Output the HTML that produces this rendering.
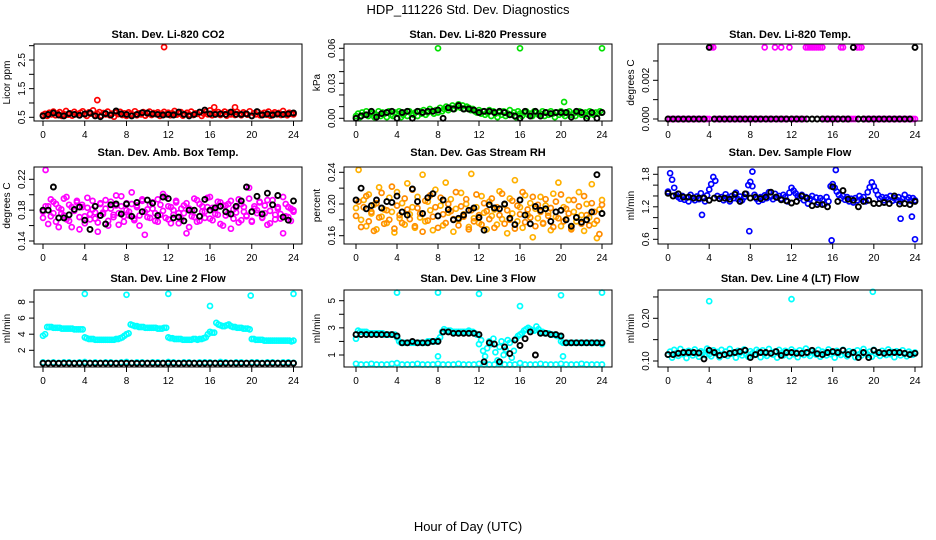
<!DOCTYPE html>
<html><head><meta charset="utf-8"><style>
html,body{margin:0;padding:0;background:#fff;}
svg{display:block;font-family:"Liberation Sans",sans-serif;}
</style></head><body>
<svg id="chart" width="936" height="540" viewBox="0 0 936 540">
<text x="468" y="14" text-anchor="middle" font-size="13">HDP_111226  Std. Dev. Diagnostics</text>
<text x="468" y="531" text-anchor="middle" font-size="13">Hour of Day (UTC)</text>
</svg>
<script>
// ---- data ----
const xTicks = [0,4,8,12,16,20,24];
const co2Red = [0.58,0.62,0.55,0.66,0.60,0.70,0.57,0.63,0.68,0.55,0.61,0.72,0.59,0.64,0.56,0.69,0.62,0.58,0.66,0.71,0.60,0.55,0.67,0.63,0.74,0.58,0.62,0.68,0.56,0.65,0.60,0.70,0.57,0.63,0.52,0.66,0.61,0.69,0.58,0.64,0.55,0.67,0.62,0.59,0.71,0.57,0.64,0.60,0.68,0.56,0.63,0.70,0.58,0.65,0.61,0.67,0.55,0.62,0.69,0.60,0.66,0.57,0.64,0.72,0.59,0.63,0.68,0.56,0.61,0.66,0.60,0.70,0.58,0.64,0.62,0.67,0.55,0.63,0.69,0.60,0.74,0.57,0.65,0.61,0.68,0.58,0.63,0.70,0.56,0.66,0.60,0.64,0.58,0.69,0.62,0.57,0.67,0.63,0.59,0.71,0.55,0.64,0.60,0.68,0.57,0.62,0.66,0.59,0.70,0.56,0.63,0.67,0.60,0.65,0.58,0.72,0.61,0.57,0.66,0.62,0.60];
const co2OutHours = [5.2,11.6,16.4,18.4];
const co2OutVals = [1.1,2.95,0.85,0.85];
const co2Black = [0.55,0.6,0.65,0.58,0.55,0.63,0.6,0.57,0.62,0.65,0.55,0.52,0.63,0.58,0.72,0.62,0.6,0.55,0.6,0.66,0.65,0.62,0.6,0.58,0.6,0.58,0.68,0.6,0.55,0.6,0.68,0.75,0.62,0.6,0.62,0.6,0.68,0.6,0.6,0.62,0.55,0.7,0.58,0.62,0.58,0.62,0.6,0.62,0.65];

const presGreen = [0.002,0.004,0.001,0.005,0.003,0.006,0.002,0.004,0.005,0.001,0.003,0.006,0.002,0.005,0.004,0.001,0.006,0.003,0.002,0.005,0.004,0.006,0.001,0.003,0.005,0.002,0.006,0.004,0.003,0.005,0.002,0.006,0.004,0.007,0.003,0.005,0.008,0.006,0.004,0.007,0.005,0.009,0.006,0.008,0.010,0.007,0.009,0.011,0.008,0.010,0.012,0.009,0.011,0.008,0.010,0.009,0.007,0.008,0.006,0.005,0.007,0.004,0.006,0.003,0.005,0.007,0.002,0.006,0.004,0.001,0.005,0.003,0.006,0.002,0.004,0.007,0.003,0.005,0.001,0.006,0.004,0.002,0.005,0.006,0.003,0.004,0.002,0.006,0.005,0.003,0.004,0.006,0.002,0.005,0.003,0.006,0.004,0.001,0.005,0.003,0.006,0.004,0.002,0.005,0.006,0.003,0.004,0.002,0.005,0.006,0.003,0.004,0.005,0.002,0.006,0.004,0.003,0.005,0.004,0.006,0.005];
const presOutHours = [8,16,24,20.3];
const presOutVals = [0.06,0.06,0.06,0.014];
const presBlack = [0.0,0.002,0.003,0.006,0.001,0.004,0.005,0.006,0.0,0.005,0.006,0.0,0.006,0.005,0.006,0.006,0.007,0.0,0.009,0.008,0.011,0.008,0.008,0.007,0.005,0.006,0.006,0.005,0.006,0.005,0.003,0.002,0.0,0.006,0.002,0.006,0.002,0.005,0.004,0.005,0.005,0.005,0.001,0.006,0.005,0.0,0.005,0.0,0.005];

const tempMagenta = [0,0,0,0,0,0,0,0,0,0,0,0,0,0,0,0,0,0,0,0,0,0.0037,0.0037,0,0,0,0,0,0,0,0,0,0,0,0,0,0,0,0,0,0,0,0,0,0,0,0,0.0037,0,0,0,0,0.0037,0,0,0.0037,0,0,0,0.0037,0,0,0,0,0,0,0,0.0037,0.0037,0.0037,0.0037,0.0037,0.0037,0.0037,0.0037,0.0037,0,0,0,0,0,0,0,0,0.0037,0.0037,0,0,0,0,0,0,0.0037,0.0037,0.0037,0,0,0,0,0,0,0,0,0,0,0,0,0,0,0,0,0,0,0,0,0,0,0,0,0,0];
const tempBlack = [0,0,0,0,0,0,0,0,0.0037,0,0,0,0,0,0,0,0,0,0,0,0,0,0,0,0,0,0,0,0,0,0,0,0,0,0,0,0.0037,0,0,0,0,0,0,0,0,0,0,0,0.0037];

const ambA = [0.178,0.232,0.185,0.172,0.191,0.165,0.183,0.176,0.195,0.168,0.187,0.158,0.180,0.192,0.171,0.184,0.163,0.196,0.175,0.181,0.169,0.152,0.188,0.177,0.193,0.166,0.182,0.174,0.199,0.161,0.185,0.172,0.189,0.178,0.203,0.167,0.186,0.173,0.194,0.148,0.181,0.170,0.190,0.176,0.165,0.187,0.179,0.197,0.168,0.184,0.174,0.192,0.163,0.182,0.176,0.189,0.158,0.180,0.171,0.193,0.166,0.185,0.178,0.196,0.169,0.183,0.175,0.191,0.162,0.186,0.173,0.188,0.156,0.181,0.177,0.194,0.167,0.184,0.172,0.209,0.165,0.182,0.176,0.190,0.170,0.186,0.161,0.179,0.193,0.168,0.184,0.175,0.150,0.188,0.171,0.182,0.178];
const ambB = [0.170,0.185,0.162,0.194,0.176,0.188,0.158,0.181,0.173,0.197,0.166,0.184,0.179,0.190,0.155,0.187,0.172,0.183,0.168,0.192,0.177,0.164,0.189,0.175,0.182,0.160,0.191,0.171,0.186,0.176,0.198,0.165,0.180,0.173,0.188,0.169,0.184,0.160,0.192,0.178,0.171,0.187,0.182,0.166,0.194,0.174,0.201,0.170,0.185,0.163,0.180,0.190,0.176,0.168,0.186,0.150,0.182,0.172,0.195,0.165,0.188,0.178,0.170,0.184,0.197,0.167,0.181,0.174,0.190,0.160,0.186,0.176,0.192,0.169,0.183,0.164,0.188,0.178,0.173,0.195,0.166,0.185,0.180,0.191,0.171,0.176,0.193,0.163,0.187,0.174,0.182,0.169,0.197,0.172,0.184,0.166,0.180];
const ambBlack = [0.18,0.18,0.21,0.17,0.17,0.174,0.181,0.184,0.167,0.155,0.185,0.173,0.162,0.187,0.188,0.175,0.188,0.172,0.19,0.178,0.193,0.189,0.173,0.197,0.195,0.17,0.171,0.166,0.18,0.18,0.172,0.194,0.18,0.183,0.185,0.178,0.175,0.185,0.192,0.21,0.178,0.198,0.175,0.202,0.187,0.199,0.171,0.167,0.192];

const rhA = [0.195,0.243,0.180,0.205,0.172,0.212,0.188,0.199,0.168,0.221,0.184,0.193,0.176,0.208,0.190,0.164,0.215,0.182,0.201,0.174,0.226,0.187,0.196,0.170,0.209,0.183,0.237,0.178,0.203,0.192,0.167,0.218,0.185,0.198,0.173,0.227,0.189,0.206,0.165,0.194,0.180,0.214,0.187,0.200,0.171,0.238,0.182,0.196,0.176,0.210,0.189,0.168,0.203,0.185,0.193,0.174,0.216,0.181,0.199,0.163,0.207,0.188,0.230,0.178,0.196,0.170,0.211,0.186,0.201,0.158,0.194,0.182,0.209,0.175,0.198,0.189,0.167,0.213,0.184,0.227,0.172,0.196,0.181,0.205,0.170,0.190,0.178,0.215,0.186,0.166,0.200,0.183,0.225,0.175,0.157,0.193,0.205];
const rhB = [0.185,0.203,0.171,0.196,0.210,0.178,0.190,0.166,0.201,0.183,0.214,0.175,0.192,0.180,0.222,0.169,0.198,0.186,0.176,0.207,0.193,0.181,0.218,0.172,0.195,0.188,0.165,0.204,0.179,0.211,0.184,0.196,0.170,0.208,0.187,0.176,0.200,0.191,0.181,0.215,0.173,0.197,0.184,0.206,0.168,0.192,0.178,0.212,0.186,0.174,0.201,0.191,0.181,0.207,0.170,0.196,0.186,0.213,0.175,0.192,0.180,0.204,0.169,0.198,0.187,0.215,0.177,0.193,0.183,0.209,0.172,0.199,0.190,0.176,0.206,0.185,0.195,0.171,0.203,0.182,0.212,0.178,0.194,0.188,0.168,0.205,0.183,0.197,0.175,0.210,0.186,0.173,0.201,0.190,0.179,0.162,0.199];
const rhBlack = [0.205,0.22,0.194,0.198,0.205,0.195,0.203,0.202,0.21,0.19,0.186,0.219,0.203,0.188,0.208,0.213,0.185,0.205,0.193,0.18,0.182,0.186,0.192,0.195,0.183,0.167,0.199,0.195,0.194,0.2,0.182,0.174,0.205,0.186,0.175,0.197,0.192,0.194,0.178,0.19,0.192,0.18,0.172,0.183,0.177,0.18,0.19,0.237,0.188];

const flowBlue = [1.48,1.82,1.70,1.55,1.42,1.38,1.35,1.40,1.33,1.37,1.30,1.42,1.36,1.32,1.39,1.34,1.45,1.37,1.30,1.41,1.52,1.62,1.75,1.68,1.40,1.35,1.38,1.32,1.43,1.37,1.30,1.40,1.36,1.46,1.34,1.39,1.32,1.38,1.44,1.60,1.66,1.58,1.42,1.35,1.30,1.38,1.33,1.41,1.36,1.47,1.39,1.34,1.44,1.37,1.40,1.35,1.42,1.38,1.30,1.46,1.55,1.50,1.45,1.40,1.36,1.42,1.32,1.38,1.26,1.35,1.40,1.30,1.37,1.28,1.36,1.32,1.25,1.38,1.30,1.58,1.62,1.55,1.48,1.42,1.36,1.40,1.33,1.38,1.30,1.35,1.28,1.36,1.32,1.40,1.34,1.38,1.30,1.47,1.56,1.65,1.58,1.50,1.42,1.35,1.38,1.32,1.37,1.34,1.40,1.31,1.36,1.33,1.38,1.30,1.35,1.42,1.34,1.37,1.31,1.36,1.32];
const flowOutHours = [3.3,7.9,8.2,15.9,16.3,22.6,23.7,24];
const flowOutVals = [1.05,0.75,1.85,0.58,1.88,0.98,1.02,0.6];
const flowBlack = [1.45,1.4,1.44,1.38,1.38,1.36,1.36,1.36,1.32,1.36,1.35,1.36,1.34,1.43,1.3,1.44,1.36,1.38,1.35,1.38,1.47,1.38,1.33,1.31,1.27,1.3,1.4,1.36,1.22,1.24,1.24,1.2,1.57,1.3,1.5,1.34,1.32,1.2,1.3,1.32,1.26,1.26,1.28,1.26,1.4,1.25,1.26,1.24,1.3];

const line2High = [3.8,4.0, 4.9,4.9,4.9,4.8,4.8,4.8,4.8,4.7,4.7,4.7,4.7,4.7,4.7,4.6,4.6,4.6,4.6,4.6, 3.6, 3.5,3.4,3.4,3.4,3.3,3.3,3.3,3.3,3.3,3.3,3.3,3.3,3.3,3.3,3.4,3.4,3.5,3.6, 3.8,4.0,4.1, 5.2,5.1,5.0,5.0,4.9,4.9,4.9,4.8,4.8,4.8,4.8,4.8,4.8,4.7,4.7,4.7,4.8,4.8, 3.6,3.5,3.5,3.4,3.4,3.4,3.4,3.3,3.3,3.3,3.3,3.3,3.4,3.4,3.3,3.4,3.4,3.5,3.6, 4.0,4.3,4.2,4.2, 5.4,5.2,5.1,5.0,5.0,5.1,5.2,5.0,4.9,4.9,4.8,4.8,4.8,4.7,4.7,4.7,4.6, 3.4,3.4,3.3,3.3,3.3,3.3,3.2,3.2,3.2,3.2,3.2,3.2,3.2,3.2,3.2,3.2,3.2,3.2,3.2,3.1,3.2];
const line2Low = [0.5,0.45,0.5,0.45,0.5,0.5,0.45,0.5,0.55,0.45,0.5,0.45,0.5,0.5,0.45,0.5,0.55,0.45,0.5,0.5,0.45,0.5,0.5,0.45,0.55,0.5,0.45,0.5,0.5,0.45,0.5,0.5,0.5,0.45,0.55,0.5,0.45,0.5,0.5,0.45,0.5,0.5,0.45,0.5,0.5,0.45,0.5,0.5,0.45];
const line2OutHours = [4,8,12,24,16,19.9];
const line2OutVals = [9.0,8.9,9.0,9.0,7.5,8.8];
const line2Black = [0.4,0.4,0.4,0.38,0.4,0.4,0.38,0.4,0.4,0.4,0.38,0.4,0.4,0.4,0.38,0.4,0.4,0.4,0.38,0.4,0.4,0.4,0.38,0.4,0.4,0.4,0.38,0.4,0.4,0.4,0.38,0.4,0.4,0.4,0.38,0.4,0.4,0.4,0.38,0.4,0.4,0.4,0.38,0.4,0.4,0.4,0.38,0.4,0.4];

const line3High = [2.2,2.8,2.7,2.7,2.7,2.7,2.6,2.6,2.6,2.6,2.6,2.6,2.6,2.6,2.5,2.5,2.5,2.5,2.5,2.5, 2.3,2.0,1.9,1.9,1.9,1.9,1.9,1.9,1.9,1.9,1.9,1.9,1.9,1.9,1.9,2.0,2.0,2.0,2.0,2.0, 2.1,2.3,2.7,2.9,2.8,2.8,2.8,2.7,2.7,2.7,2.7,2.7,2.7,2.7,2.7,2.8,2.7,2.7,2.6,2.5, 1.8,2.1,1.3,0.9,1.5,2.0,1.8,2.2,1.2,0.6,1.6,2.0,1.0,1.4,2.1,1.9,0.8,1.3,2.2,2.4, 2.5,2.6,2.8,2.9,3.0,2.9,2.8,2.8,3.1,2.9,2.7,2.7,2.6,2.6,2.6,2.5,2.5,2.5,2.4,2.4, 2.0,1.9,1.9,1.9,1.9,1.9,1.9,1.9,1.9,1.9,1.9,1.9,1.9,1.9,1.9,1.9,1.9,1.9,1.9,1.9,1.8];
const line3Low = [0.35,0.3,0.3,0.35,0.3,0.3,0.3,0.35,0.4,0.3,0.3,0.3,0.35,0.3,0.3,0.3,0.35,0.3,0.3,0.3,0.35,0.3,0.3,0.3,0.35,0.3,0.3,0.3,0.35,0.3,0.3,0.3,0.4,0.3,0.3,0.3,0.35,0.3,0.3,0.3,0.35,0.3,0.3,0.3,0.35,0.3,0.3,0.3,0.3];
const line3OutHours = [4,8,12,20,24,16,8,20.2];
const line3OutVals = [5.6,5.6,5.5,5.4,5.6,4.6,0.9,0.9];
const line3Black = [2.5,2.5,2.5,2.5,2.5,2.5,2.5,2.5,2.4,1.9,1.9,2.0,1.9,1.9,1.9,2.0,2.0,2.7,2.7,2.6,2.6,2.6,2.6,2.6,2.5,0.5,1.9,1.8,0.5,1.6,1.1,2.1,1.7,2.2,2.7,1.0,2.6,2.6,2.5,2.5,2.4,1.9,1.9,1.9,1.9,1.9,1.9,1.9,1.9];

const line4Cyan = [0.115,0.122,0.108,0.126,0.118,0.112,0.128,0.116,0.121,0.107,0.124,0.119,0.113,0.127,0.117,0.110,0.123,0.120,0.114,0.129,0.116,0.111,0.125,0.118,0.121,0.109,0.126,0.115,0.122,0.112,0.128,0.117,0.120,0.108,0.124,0.119,0.113,0.127,0.116,0.110,0.123,0.118,0.114,0.126,0.121,0.109,0.125,0.117,0.112,0.128,0.119,0.115,0.122,0.108,0.126,0.118,0.113,0.124,0.120,0.111,0.127,0.116,0.121,0.109,0.125,0.118,0.114,0.129,0.117,0.112,0.123,0.119,0.115,0.126,0.110,0.122,0.118,0.113,0.127,0.116,0.120,0.108,0.124,0.119,0.114,0.126,0.117,0.111,0.123,0.118,0.121,0.109,0.125,0.116,0.113,0.128,0.119,0.115,0.122,0.110,0.126,0.117,0.120,0.112,0.124,0.118,0.114,0.127,0.116,0.121,0.109,0.123,0.119,0.113,0.125,0.117,0.111,0.122,0.118,0.115,0.120];
const line4OutHours = [4,12,19.9];
const line4OutVals = [0.24,0.245,0.262];
const line4Black = [0.115,0.115,0.118,0.12,0.12,0.12,0.119,0.105,0.125,0.12,0.113,0.115,0.118,0.12,0.122,0.125,0.108,0.115,0.12,0.12,0.118,0.122,0.113,0.12,0.12,0.118,0.118,0.12,0.125,0.117,0.115,0.12,0.122,0.12,0.125,0.115,0.12,0.108,0.12,0.108,0.125,0.12,0.118,0.12,0.12,0.12,0.118,0.115,0.118];

// ---- drawing ----
const NS = 'http://www.w3.org/2000/svg';
const svg = document.getElementById('chart');
const cols = [{bx0:34,bx1:302,t0:43,t24:293.5},{bx0:344,bx1:612,t0:356,t24:602},{bx0:658,bx1:922,t0:668,t24:915}];
const rows = [{top:44,bot:121,title:38},{top:167,bot:244,title:156},{top:290,bot:367,title:282}];
function mk(tag, attrs, parent){const e=document.createElementNS(NS,tag);for(const k in attrs)e.setAttribute(k,attrs[k]);(parent||svg).appendChild(e);return e;}
function hoursFor(arr){return arr.map((_,i)=>i*24/(arr.length-1));}

const panels = [
 {c:0,r:0,name:'co2',title:'Stan. Dev. Li-820 CO2',ylab:'Licor ppm',v0:0.5,p0:117.3,v1:2.5,p1:60,ticks:[0.5,1,1.5,2,2.5,3],labels:[0.5,1.5,2.5],fmt:1,
  series:[{v:co2Red,col:'#ff0000'},{h:co2OutHours,v:co2OutVals,col:'#ff0000'},{v:co2Black,col:'#000'}]},
 {c:1,r:0,name:'pressure',title:'Stan. Dev. Li-820 Pressure',ylab:'kPa',v0:0,p0:118.3,v1:0.06,p1:48.3,ticks:[0,0.01,0.02,0.03,0.04,0.05,0.06],labels:[0,0.03,0.06],fmt:2,
  series:[{v:presGreen,col:'#00e000'},{h:presOutHours,v:presOutVals,col:'#00e000'},{v:presBlack,col:'#000'}]},
 {c:2,r:0,name:'li820-temp',title:'Stan. Dev. Li-820 Temp.',ylab:'degrees C',v0:0,p0:119,v1:0.002,p1:80.3,ticks:[0,0.001,0.002,0.003],labels:[0,0.002],fmt:3,
  series:[{v:tempMagenta,col:'#ff00ff'},{v:tempBlack,col:'#000'}]},
 {c:0,r:1,name:'amb-temp',title:'Stan. Dev. Amb. Box Temp.',ylab:'degrees C',v0:0.14,p0:241,v1:0.22,p1:179.3,ticks:[0.14,0.16,0.18,0.2,0.22],labels:[0.14,0.18,0.22],fmt:2,
  series:[{v:ambA,col:'#ff00ff'},{v:ambB,col:'#ff00ff'},{v:ambBlack,col:'#000'}]},
 {c:1,r:1,name:'gas-rh',title:'Stan. Dev. Gas Stream RH',ylab:'percent',v0:0.16,p0:235.7,v1:0.24,p1:172.3,ticks:[0.16,0.18,0.2,0.22,0.24],labels:[0.16,0.2,0.24],fmt:2,
  series:[{v:rhA,col:'#ffb000'},{v:rhB,col:'#ff8c00'},{v:rhBlack,col:'#000'}]},
 {c:2,r:1,name:'sample-flow',title:'Stan. Dev. Sample Flow',ylab:'ml/min',v0:0.6,p0:239.3,v1:1.8,p1:174.3,ticks:[0.6,0.8,1,1.2,1.4,1.6,1.8],labels:[0.6,1.2,1.8],fmt:1,
  series:[{v:flowBlue,col:'#0000ff'},{h:flowOutHours,v:flowOutVals,col:'#0000ff'},{v:flowBlack,col:'#000'}]},
 {c:0,r:2,name:'line2-flow',title:'Stan. Dev. Line 2 Flow',ylab:'ml/min',v0:2,p0:350.3,v1:8,p1:302,ticks:[2,4,6,8],labels:[2,4,6,8],fmt:0,
  series:[{v:line2High,col:'#00ffff'},{v:line2Low,col:'#00ffff'},{h:line2OutHours,v:line2OutVals,col:'#00ffff'},{v:line2Black,col:'#000'}]},
 {c:1,r:2,name:'line3-flow',title:'Stan. Dev. Line 3 Flow',ylab:'ml/min',v0:1,p0:355,v1:5,p1:300.7,ticks:[1,2,3,4,5],labels:[1,3,5],fmt:0,
  series:[{v:line3High,col:'#00ffff'},{v:line3Low,col:'#00ffff'},{h:line3OutHours,v:line3OutVals,col:'#00ffff'},{v:line3Black,col:'#000'}]},
 {c:2,r:2,name:'line4-flow',title:'Stan. Dev. Line 4 (LT) Flow',ylab:'ml/min',v0:0.1,p0:361,v1:0.2,p1:318.3,ticks:[0.1,0.15,0.2,0.25],labels:[0.1,0.2],fmt:2,
  series:[{v:line4Cyan,col:'#00ffff'},{h:line4OutHours,v:line4OutVals,col:'#00ffff'},{v:line4Black,col:'#000'}]}
];

panels.forEach(p=>{
  const C=cols[p.c], R=rows[p.r];
  const xs = h => C.t0 + (C.t24-C.t0)*h/24;
  const ys = v => p.p0 + (p.p1-p.p0)*(v-p.v0)/(p.v1-p.v0);
  const g = mk('g',{});
  
  
  const t = mk('text',{x:(C.bx0+C.bx1)/2,y:R.title,'text-anchor':'middle','font-size':'11','font-weight':'bold'},g);
  t.textContent = p.title;
  
  
  const yl = mk('text',{transform:`translate(${C.bx0-24},${(R.top+R.bot)/2}) rotate(-90)`,'text-anchor':'middle','font-size':'10'},g);
  yl.textContent = p.ylab;
  
  
  const pts = mk('g',{fill:'none'},g);
  
  
  p.series.forEach(s=>{
    const hs = s.h || hoursFor(s.v);
    const black = s.col === '#000';
    s.v.forEach((v,i)=>{
      const c = mk('circle',{cx:xs(hs[i]).toFixed(1),cy:ys(v).toFixed(1),r:'2.5',stroke:s.col,'stroke-width':black?'1.9':'1.7'},pts);
      
      
    });
  });
  const box = mk('rect',{x:C.bx0,y:R.top,width:C.bx1-C.bx0,height:R.bot-R.top,fill:'none',stroke:'#000','stroke-width':'1'},g);
  
  
  xTicks.forEach(h=>{
    mk('line',{x1:xs(h),x2:xs(h),y1:R.bot,y2:R.bot+5,stroke:'#000'},g);
    const lt = mk('text',{x:xs(h),y:R.bot+17,'text-anchor':'middle','font-size':'10'},g);
    lt.textContent = h;
    
    
  });
  p.ticks.forEach(v=>{
    mk('line',{x1:C.bx0-5,x2:C.bx0,y1:ys(v),y2:ys(v),stroke:'#000'},g);
  });
  p.labels.forEach(v=>{
    const lt = mk('text',{transform:`translate(${C.bx0-9},${ys(v)}) rotate(-90)`,'text-anchor':'middle','font-size':'10'},g);
    lt.textContent = v.toFixed(p.fmt);
    
    
  });
});
</script>
</body></html>
